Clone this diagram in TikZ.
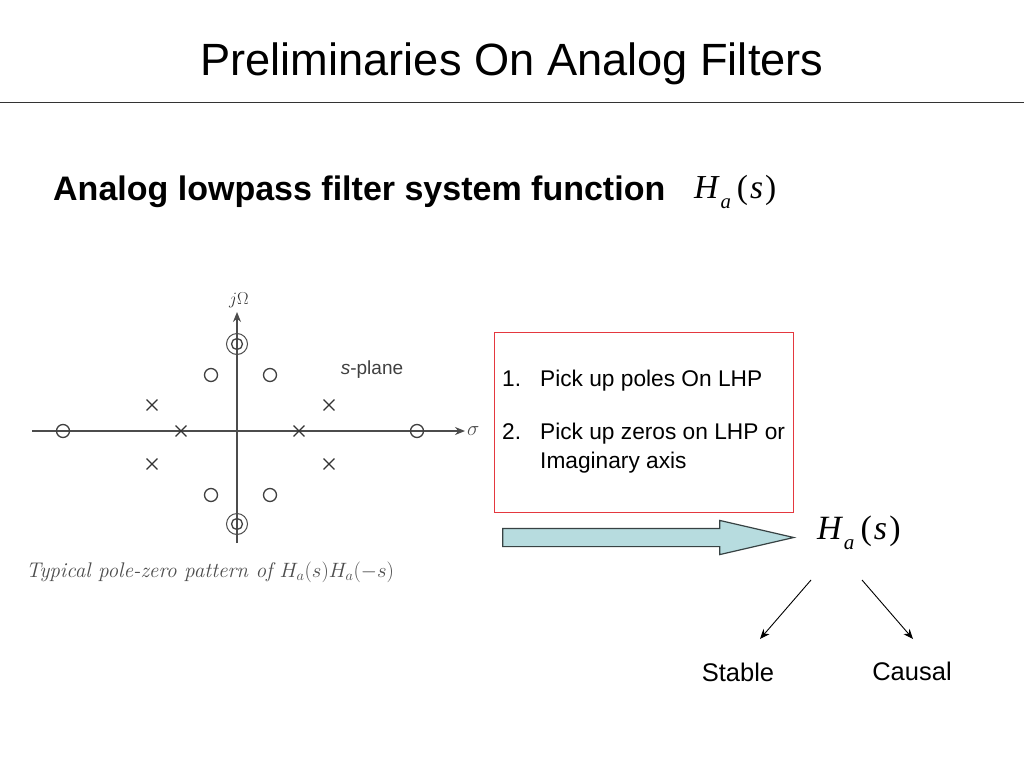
\documentclass[tikz,border=0pt]{standalone}
\usepackage{amsmath}
\usepackage{fontspec}
\setmainfont{Liberation Sans}
\newfontfamily\timesfont{Liberation Serif}
\usetikzlibrary{shapes.misc,shapes.arrows,arrows.meta,positioning}
\definecolor{arrowfill}{HTML}{B7DCDF}
\definecolor{boxred}{HTML}{E4383F}
\newcommand{\hafunc}{{\timesfont\textit{H}\kern0.02em\raisebox{-0.3em}{\scalebox{0.62}{\textit{a}}}\kern0.18em(\kern0.06em\textit{s}\kern0.06em)}}
\tikzset{
  zero/.style = {draw=black!75, circle, line width=1.3pt, minimum size=13pt, inner sep=0pt},
  dblzero/.style = {draw=black!70, circle, line width=1pt, minimum size=21pt, inner sep=0pt},
  pole/.style = {draw=black!80, cross out, line width=1.3pt, minimum size=9.5pt, inner sep=0pt},
  axis/.style = {draw=black!70, line width=1.3pt, -{Stealth[length=10pt,width=8pt]}},
  arrow/.style = {draw=black, line width=0.9pt, -{Stealth[length=10pt,width=8pt]}},
  label/.style = {inner sep=0pt, font=\fontsize{25.5}{25.5}\selectfont},
  listtext/.style = {inner sep=0pt, anchor=base west, font=\fontsize{22.7}{22.7}\selectfont}
}
\begin{document}
\begin{tikzpicture}[x=1pt, y=-1pt]
        \useasboundingbox (0,0) rectangle (1024,768);
        \node[inner sep=0pt, font=\fontsize{45.2}{45.2}\selectfont] (title) at (512,64) {Preliminaries On Analog Filters};
        \coordinate (ruleL) at (0,102);
        \coordinate (ruleR) at (1024,102);
        \draw[black!80] (ruleL) -- (ruleR);
        \node[inner sep=0pt, anchor=base west, font=\bfseries\fontsize{34}{34}\selectfont] (head) at (53,200.5) {Analog lowpass filter system function};
        \node[inner sep=0pt, anchor=base west, font=\fontsize{33.5}{33.5}\selectfont] (hahead) at (694,198) {\hafunc};
        % s-plane
        \coordinate (west) at (32,431);
        \coordinate (east) at (465,431);
        \coordinate (south) at (237,543);
        \coordinate (north) at (237,312);
        \draw[axis] (west) -- (east);
        \draw[axis] (south) -- (north);
        \node[inner sep=0pt, black!70, font=\fontsize{21}{21}\selectfont, right=2pt of east] (sigma) {$\sigma$};
        \node[inner sep=0pt, black!80, font=\fontsize{19}{19}\selectfont] (jomega) at (239,300) {$j\Omega$};
        \node[inner sep=0pt, black!75, font=\fontsize{19}{19}\selectfont] (splane) at (372,370) {\textit{s}-plane};
        \node[zero] (z1) at (63,431) {};
        \node[zero] (z2) at (417,431) {};
        \node[zero] (z3) at (211,375) {};
        \node[zero] (z4) at (270,375) {};
        \node[zero] (z5) at (211,495) {};
        \node[zero] (z6) at (270,495) {};
        \node[dblzero] (z7) at (237,344) {};
        \node[dblzero] (z8) at (237,524) {};
        \node[zero, minimum size=11pt] (z9) at (237,344) {};
        \node[zero, minimum size=11pt] (z10) at (237,524) {};
        \node[pole] (p1) at (152,405) {};
        \node[pole] (p2) at (329,405) {};
        \node[pole] (p3) at (152,464) {};
        \node[pole] (p4) at (329,464) {};
        \node[pole] (p5) at (181,431) {};
        \node[pole] (p6) at (299,431) {};
        \node[inner sep=0pt, black!70, font=\fontsize{21.2}{21.2}\selectfont] (caption) at (210,572) {\fontspec{Latin Modern Roman}\itshape Typical pole-zero pattern of $H_a(s)H_a(-s)$};
        % red box
        \node[draw=boxred, fill=white, minimum width=299pt, minimum height=180pt, inner sep=0pt] (box) at (644,422) {};
        \node[listtext] (item1) at (502,386) {1.};
        \node[listtext] (text1) at (540,386) {Pick up poles On LHP};
        \node[listtext] (item2) at (502,439) {2.};
        \node[listtext] (text2) at (540,439) {Pick up zeros on LHP or};
        \node[listtext] (text3) at (540,468) {Imaginary axis};
        % block arrow
        \node[single arrow, draw=black!70!arrowfill, fill=arrowfill, line width=1.2pt, inner sep=0pt, minimum height=291pt, single arrow head extend=8pt, single arrow tip angle=26] (block) at (628.5,537.5) {\rule{0pt}{17pt}};
        \node[inner sep=0pt, anchor=base west, font=\fontsize{34}{34}\selectfont] (haout) at (817,539) {\hafunc};
        \coordinate (stableTop) at (811,580);
        \coordinate (stableEnd) at (760,639);
        \coordinate (causalTop) at (862,580);
        \coordinate (causalEnd) at (913,639);
        \draw[arrow] (stableTop) -- (stableEnd);
        \draw[arrow] (causalTop) -- (causalEnd);
        \node[label] (stable) at (738,672) {Stable};
        \node[label] (causal) at (912,671) {Causal};
    \end{tikzpicture}
\end{document}
